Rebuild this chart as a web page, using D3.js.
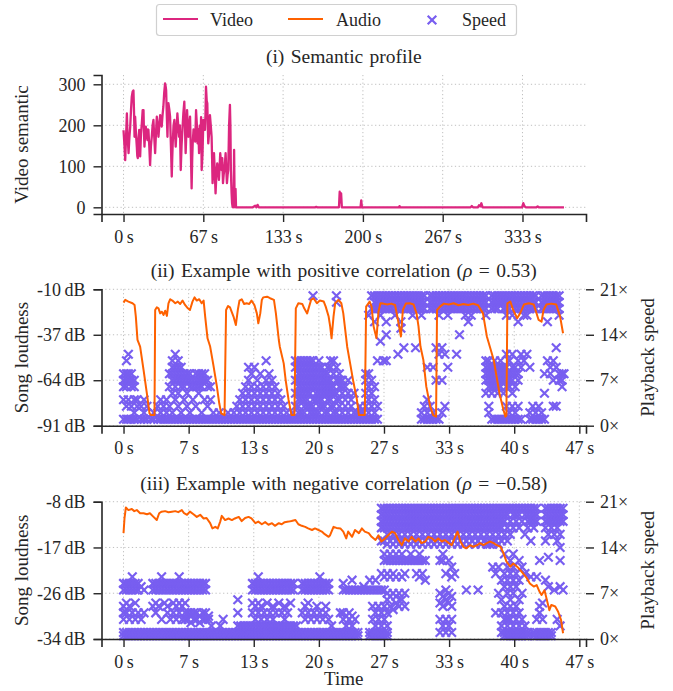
<!DOCTYPE html>
<html><head><meta charset="utf-8">
<script src="https://cdn.jsdelivr.net/npm/d3@7"></script>
<style>body{margin:0;background:#fff}</style>
</head><body><svg id="c" width="673" height="691" xmlns="http://www.w3.org/2000/svg"></svg>
<script>
// ---------------- DATA ----------------
const legendLabels = ["Video", "Audio", "Speed"];
const titles = ["(i) Semantic profile", "(ii) Example with positive correlation (", "(iii) Example with negative correlation ("];
const rhoValues = ["0.53", "\u22120.58"];

// Panel (i): video semantic profile
const videoTime = [0,0.8,1.4,2.1,2.8,3.3,4.2,4.9,5.6,6.3,6.9,7.6,8.3,8.8,9.2,9.7,10.4,11.1,11.5,11.9,12.5,13.1,13.5,13.9,14.6,15.3,16.0,16.7,17.1,17.5,18.0,18.6,19.3,20.0,20.4,20.8,21.5,22.2,22.9,23.6,24.3,25.0,25.7,26.4,27.1,27.8,28.5,29.2,29.9,30.6,31.2,31.9,32.6,33.3,34.0,34.7,35.2,35.6,36.1,36.7,37.1,37.5,38.2,38.9,39.6,40.3,40.7,41.1,41.8,42.5,43.0,43.6,44.3,45.0,45.7,46.4,47.1,47.8,48.5,49.2,50.0,50.8,51.3,51.9,52.5,53.1,53.6,54.2,54.9,55.6,56.3,56.9,57.4,57.8,58.5,59.2,59.9,60.6,61.3,61.9,62.5,63.1,63.7,64.2,64.8,65.3,66.0,66.7,67.4,68.1,68.5,68.9,69.5,70.0,70.4,70.8,71.5,72.2,72.9,73.6,74.0,74.4,75.0,75.6,76.2,76.9,77.6,78.3,79.0,79.7,80.3,80.8,81.4,81.9,82.5,83.1,83.7,84.2,84.8,85.3,85.9,86.4,87.0,87.5,88.2,88.9,89.3,89.7,90.0,90.3,90.7,91.1,91.6,92.0,92.4,92.8,93.2,93.6,94.0,95,108,110,111,112,113,160,161,162,180,180.6,181.2,181.8,182.4,198,198.6,199.2,230,230.6,231.2,290,291,292,296,297,298,299,300,333,334,335,336,345,346,347,368];
const videoValue = [188,150,115,170,229,180,132,170,197,240,270,282,285,230,172,221,180,148,125,120,165,189,150,124,180,205,237,237,180,148,175,197,175,164,190,189,150,103,150,172,200,213,170,132,180,221,200,172,200,225,210,197,225,246,280,302,295,286,230,172,220,254,240,221,150,75,120,156,200,213,180,148,190,229,200,172,200,91,150,189,230,258,200,132,180,237,200,172,200,221,130,46,120,156,190,189,160,237,200,156,190,132,200,156,220,91,130,213,200,189,230,294,260,254,200,156,180,225,200,172,120,59,100,132,90,34,80,107,90,67,100,132,110,91,120,59,80,91,110,132,90,59,80,91,200,250,200,91,60,34,10,2,0,30,140,20,0,45,0,0,0,4,0,6,0,0,1,0,0,38,12,34,0,0,17,0,0,3,0,0,3,0,0,5,2,10,0,0,10,3,0,0,2,0,0];
const p1Ticks = [0, 66.667, 133.333, 200, 266.667, 333.333];
const p1TickLabels = ["0\u2009s", "67\u2009s", "133\u2009s", "200\u2009s", "267\u2009s", "333\u2009s"];
const p1YTicks = [0, 100, 200, 300];

// Panels (ii)/(iii): shared time ticks
const tTicks = [0, 6.667, 13.333, 20, 26.667, 33.333, 40, 46.667];
const tTickLabels = ["0\u2009s", "7\u2009s", "13\u2009s", "20\u2009s", "27\u2009s", "33\u2009s", "40\u2009s", "47\u2009s"];
const speedTicks = [0, 7, 14, 21];
const speedTickLabels = ["0\u00d7", "7\u00d7", "14\u00d7", "21\u00d7"];

// Panel (ii): audio loudness
const audio2Time = [0,0.17,0.5,0.92,1.13,1.26,1.43,1.7,2.05,2.39,2.66,2.8,3.17,3.24,3.41,3.58,3.75,3.92,4.1,4.27,4.44,4.6,4.78,5.0,5.3,5.56,5.8,6.04,6.3,6.59,6.8,7.06,7.27,7.5,7.75,8.0,8.2,8.36,8.6,8.87,9.2,9.56,9.8,10.0,10.34,10.5,10.7,10.9,11.26,11.5,11.7,11.87,12.1,12.35,12.6,12.87,13.1,13.4,13.65,13.8,14.0,14.16,14.3,14.7,15.0,15.4,15.6,15.9,16.0,16.4,16.6,16.9,17.2,17.5,17.64,17.9,18.3,18.5,18.8,19.0,19.2,19.45,19.8,20.1,20.5,20.7,21.0,21.16,21.3,21.5,21.67,22.0,22.3,22.5,22.9,23.2,23.5,23.9,24.1,24.7,24.84,25.2,25.4,25.6,25.9,26.1,26.3,26.6,27.0,27.4,27.8,28.1,28.4,28.6,28.9,29.3,29.7,30.0,30.2,30.4,30.7,31.0,31.4,31.7,32.0,32.1,32.4,32.8,33.3,33.8,34.3,34.8,35.3,35.8,36.3,36.8,37.2,37.5,37.9,38.2,38.5,38.9,39.1,39.2,39.3,39.6,39.9,40.3,40.6,41.0,41.5,42.0,42.5,42.8,43.0,43.3,43.8,44.3,44.7,45.0];
const audio2Db = [-17.9,-16.3,-17.3,-18.3,-19.3,-26.2,-40,-44,-57.9,-71.8,-83.7,-84.7,-84.7,-22.3,-20.7,-21.3,-24.3,-23.3,-25.2,-22.7,-25.8,-18.3,-15.9,-16.7,-18.3,-17.3,-18.7,-16.7,-19.3,-21.3,-22.3,-17.3,-14.8,-16.7,-15.9,-18.3,-16.7,-26.2,-39.1,-44,-55,-67.8,-77.7,-83.7,-84.7,-22.3,-19.9,-20.7,-26.2,-31.2,-22.3,-16.7,-15.9,-18.7,-18.3,-18.7,-16.7,-19.3,-24.3,-30.2,-24.3,-16.3,-14.8,-14.4,-15.3,-16.3,-24.3,-40.1,-44.1,-54,-63.9,-75.7,-84.7,-84.7,-21.3,-18.3,-18.7,-21.3,-24.3,-20.3,-16.3,-15.3,-18.3,-16.7,-17.3,-20.3,-26.2,-32.2,-39.1,-26.2,-18.3,-16.3,-18.3,-24.3,-44.1,-54,-63.9,-75.7,-84.7,-84.7,-20.3,-17.3,-20.3,-32,-39,-23.3,-18.3,-18.5,-19,-18.5,-19.3,-28.2,-38,-22.3,-18.5,-18.3,-19,-24.3,-32,-44,-52,-67.8,-79.7,-84.7,-85.6,-22.3,-20.3,-18.5,-19,-18.3,-19.5,-18.7,-19.3,-18.5,-19.5,-24.3,-38,-44,-52,-62,-72,-81.7,-85.6,-85,-18.3,-17.3,-22.3,-27.2,-24.3,-19,-18.3,-19,-28.2,-29.2,-22.3,-19,-18.5,-19,-26.2,-36.1];
const p2DbTicks = [-91, -64, -37, -10];
const p2DbTickLabels = ["-91\u2009dB", "-64\u2009dB", "-37\u2009dB", "-10\u2009dB"];

// Panel (ii): playback speed samples, [time, [speeds at that time]]
const speed2 = [
[0.0,[1,4,6,7,8]],[0.3,[1,3,6,7,8,10]],[0.5,[1,4,7,8,11]],[0.8,[1,3,6,7,8]],[1.1,[1,2,4,6,7]],[1.4,[1,3,4]],[1.8,[1,3]],[2.1,[1,2,4]],[2.4,[1,3]],[2.8,[1]],[3.1,[1,2]],[3.5,[1,3]],[3.8,[1,2,4]],[4.1,[1,3]],[4.4,[1,2,4]],[4.7,[1,3,6,8]],
[5.0,[1,2,5,7,8,9,10]],[5.3,[1,4,6,7,8,9,11]],[5.6,[1,3,5,7,8,9,10]],[5.9,[1,2,6,7,8,9]],[6.2,[1,4,6,7,8]],[6.5,[1,3,5,7,8]],[6.8,[1,2,6,7,8]],[7.1,[1,4,6,7]],[7.4,[1,3,6,7,8]],[7.7,[1,5,6,7,8]],[8.0,[1,2,6,7,8]],[8.3,[1,4,7,8]],[8.6,[1,3,6,7]],[8.9,[1,4,6]],[9.2,[1,2]],[9.5,[1]],[9.8,[1,2]],
[10.1,[1]],[10.4,[1]],[10.7,[1,2]],[11.0,[1]],[11.3,[1,2]],[11.6,[1,3]],[11.9,[1,2,4]],[12.2,[1,3,5]],[12.5,[1,2,4,6]],[12.8,[1,3,5,7,9]],[13.1,[1,2,4,6,8]],[13.4,[1,3,5,9]],[13.7,[1,2,4,6,7]],[14.0,[1,3,5,8]],[14.3,[1,2,4,6]],[14.6,[1,3,5,7,10]],[14.9,[1,2,4,6,8]],
[15.2,[1,3,5,7]],[15.5,[1,2,4,6]],[15.8,[1,3,5]],[16.1,[1,2,4]],[16.4,[1,3]],[16.7,[1,2]],[17.0,[1]],[17.3,[1,2]],[17.6,[1,3,5,7,9,10]],[17.9,[1,2,3,4,5,6,7,8,9,10]],[18.2,[1,2,4,5,6,7,8,9,10]],[18.5,[1,2,3,4,5,6,7,8,9,10]],[18.8,[1,3,4,5,6,7,8,9,10]],
[19.1,[1,2,3,5,6,7,8,9,10]],[19.4,[1,2,3,4,6,7,8,9,10,20]],[19.7,[1,2,4,5,6,7,8,9]],[20.0,[1,2,3,4,5,6,7,8,9,10]],[20.3,[1,3,4,5,6,7,8,9]],[20.6,[1,2,3,5,6,7,8]],[20.9,[1,2,4,5,6,7,8,9]],[21.2,[1,3,4,5,6,7,9,10]],[21.5,[1,2,3,5,6,8,10]],[21.8,[1,2,4,5,7,9,19,20]],
[22.1,[1,3,4,6,7,8]],[22.4,[1,2,5,6,7]],[22.7,[1,3,4,6]],[23.0,[1,2,5,7]],[23.3,[1,3,4]],[23.6,[1,2,5]],[23.9,[1,2]],[24.2,[1,2,3]],[24.5,[1,2]],[24.8,[1,3,5,7,8]],[25.1,[1,2,4,6,8,17]],[25.4,[1,3,5,7,18,20]],[25.7,[1,2,4,6,16,18,19,20]],[26.0,[1,3,10,18,19,20]],
[26.3,[13,17,18,19,20]],[26.6,[10,18,19,20]],[26.9,[10,14,16,18,19,20]],[27.2,[18,19,20]],[27.5,[18,19,20]],[27.8,[17,18,19,20]],[28.1,[11,18,19,20]],[28.4,[15,16,18,19,20]],[28.7,[12,18,19,20]],[29.0,[18,19,20]],[29.3,[18,19,20]],[29.6,[17,18,19,20]],[29.9,[12,18,19,20]],[30.2,[18,19,20]],
[30.5,[1,2,17,18,19,20]],[30.8,[1,3,18,19,20]],[31.1,[1,2,4,9]],[31.4,[1,3,18,19,20]],[31.7,[1,2,9,18,19,20]],[32.0,[1,7,12,18,19,20]],[32.3,[1,11,17,18,19,20]],[32.6,[2,7,12,18,19,20]],[32.9,[3,11,18,19,20]],[33.2,[9,17,18,19,20]],[33.5,[18,19,20]],[33.8,[18,19,20]],
[34.1,[11,18,19,20]],[34.4,[14,18,19,20]],[34.7,[18,19,20]],[35.0,[17,18,19,20]],[35.3,[16,18,19,20]],[35.6,[17,18,19,20]],[35.9,[18,19,20]],[36.2,[18,19,20]],[36.5,[18,19,20]],[36.8,[18,19,20]],[37.1,[5,7,8,9,10,17,18,19,20]],[37.4,[2,3,6,7,8,9,10]],
[37.7,[1,5,6,7,8,9,18,19,20]],[38.0,[1,6,7,8,9,10,18,19,20]],[38.3,[1,5,6,7,8,9,18,19,20]],[38.6,[1,6,7,8,9,10,19,20]],[38.9,[1,5,7,8,9,18,19,20]],[39.2,[1,3,6,7,8,9,11,17,18,19,20]],[39.5,[1,2,6,7,8,10,18,19,20]],[39.8,[1,3,5,7,8,9,11,17,19,20]],
[40.1,[1,2,6,8,9,18,19,20]],[40.4,[1,3,7,8,10,16,18,19,20]],[40.7,[1,9,11,18,19,20]],[41.0,[10,17,18,19,20]],[41.3,[11,17,18,19,20]],[41.6,[1,2,9,18,19,20]],[41.9,[1,3,18,19,20]],[42.2,[1,2,18,19,20]],[42.5,[1,3]],[42.8,[1,2,18,19,20]],
[43.1,[1,5,8,18,19,20]],[43.4,[10,16,18,19,20]],[43.7,[8,9,18,19,20]],[44.0,[3,7,10,18,19,20]],[44.3,[3,9,12,18,19,20]],[44.6,[7,8,17,18,19,20]],[44.9,[6,7,8]],[45.1,[8]]
];

// Panel (iii): audio loudness
const audio3Time = [0,0.1,0.24,0.5,0.85,1.1,1.36,1.7,2.05,2.4,2.7,3.07,3.4,3.65,3.9,4.26,4.6,4.95,5.3,5.6,5.97,6.2,6.5,6.8,7.16,7.5,7.85,8.2,8.5,8.87,9.1,9.4,9.65,9.9,10.06,10.4,10.75,11.1,11.4,11.8,12.1,12.45,12.8,13.1,13.5,13.8,14.16,14.5,14.84,15.2,15.5,15.9,16.2,16.5,16.9,17.2,17.6,17.9,18.25,18.6,18.9,19.3,19.6,19.96,20.3,20.6,21.0,21.15,21.5,21.8,22.2,22.5,22.8,23.0,23.4,23.7,24.1,24.4,24.7,25.1,25.4,25.8,26.1,26.4,26.8,27.1,27.5,27.8,28.15,28.5,28.8,29.2,29.5,29.9,30.2,30.5,30.9,31.2,31.6,31.9,32.2,32.6,32.9,33.3,33.6,33.95,34.2,34.5,34.8,35.1,35.5,35.8,36.2,36.5,36.85,37.2,37.5,37.9,38.2,38.6,38.9,39.2,39.6,39.9,40.3,40.6,40.9,41.3,41.6,42.0,42.3,42.6,42.8,43.1,43.3,43.6,43.8,44.2,44.5,44.8,45.0];
const audio3Db = [-14.1,-11.3,-9.2,-9.7,-9.5,-9.9,-9.7,-10.3,-10.3,-10.5,-10.3,-11,-11.6,-10.3,-10,-9.9,-10.1,-10,-9.9,-10.1,-9.7,-10.3,-10.6,-10,-10.5,-11,-10.6,-11.3,-11.2,-12.2,-13.2,-12.9,-13.2,-11.9,-10.8,-11.6,-11.3,-11.6,-11.3,-11,-11.8,-11.2,-11,-11.3,-12.2,-11.9,-12.4,-12,-12.5,-12.2,-12.7,-12.2,-12.4,-12,-11.9,-11.8,-11.6,-12.4,-12.7,-12.9,-13.2,-13.5,-13.2,-13.5,-13.8,-14.3,-14.8,-14.5,-12.9,-13.1,-13.2,-13.8,-15.1,-13.8,-14.8,-13.5,-14.1,-13.2,-13.8,-14.1,-14.8,-15.4,-14.5,-15.7,-15.1,-14.5,-13.8,-14.1,-15.4,-16.4,-15.1,-15.7,-14.8,-15.7,-15.1,-16.0,-15.7,-14.8,-15.1,-15.7,-15.1,-15.7,-15.4,-16.0,-16.4,-14.8,-13.8,-15.7,-16.7,-17,-16.4,-16.7,-16.4,-16,-16.4,-16,-15.7,-16,-16.4,-16.7,-17.9,-19.5,-20.5,-19.9,-20.5,-21.1,-21.8,-22.7,-23.7,-24.3,-24,-25.3,-25.9,-25,-26.5,-28.8,-27.8,-28.1,-29.1,-30.7,-33.2];
const p3DbTicks = [-34.3, -25.567, -16.833, -8.1];
const p3DbTickLabels = ["-34\u2009dB", "-26\u2009dB", "-17\u2009dB", "-8\u2009dB"];

// Panel (iii): playback speed samples, [time, [speeds at that time]]
const speed3 = [
[0.0,[0.5,1,3,4,5,7.5,8.5]],[0.3,[0.5,1,4,5.5,7.5,8.5]],[0.6,[0.5,1,3,5,7.5,8.5]],[0.9,[0.5,1,4,7.5,8.5,9.5]],[1.2,[0.5,1,3,5.5,7.5,8.5]],[1.5,[0.5,1,4,7.5,8.5]],[1.8,[0.5,1,3,8]],[2.1,[0.5,1,4,7.5]],[2.4,[0.5,1]],[2.7,[0.5,1]],
[3.0,[0.5,1,5,7.5,8.5]],[3.3,[0.5,1,4,5.5,7.5,8.5]],[3.6,[0.5,1,5,7.5,8.5]],[3.9,[0.5,1,3,7.5,8.5,9.5]],[4.2,[0.5,1,5.5,7.5,8.5]],[4.5,[0.5,1,4,5,7.5,8.5]],[4.8,[0.5,1,3,7.5,8.5]],[5.1,[0.5,1,4,5.5,7.5,8.5]],[5.4,[0.5,1,3,5,7.5,8.5]],[5.7,[0.5,1,4,5.5,7.5,8.5,9.5]],
[6.0,[0.5,1,3,5,7.5,8.5]],[6.3,[0.5,1,3,4,5.5,7.5,8.5]],[6.6,[0.5,1,3,4,7.5,8.5]],[6.9,[0.5,1,2.5,3.5,4,7.5,8.5]],[7.2,[0.5,1,3,4,7.5,8.5]],[7.5,[0.5,1,3,4,7.5,8.5]],[7.8,[0.5,1,2.5,3.5,7.5,8.5]],[8.1,[0.5,1,3,4,7.5,8.5]],[8.4,[0.5,1,3,4,7.5,8.5]],[8.7,[0.5,1,3,3.5]],
[9.0,[0.5,1,2]],[9.3,[0.5,1]],[9.6,[0.5,1]],[9.9,[0.5,1,2]],[10.2,[0.5,1,3]],[10.5,[0.5,1]],[10.8,[0.5,1]],[11.1,[0.5,1]],[11.4,[0.5,1]],[11.7,[0.5,1,2,4,6]],[12.0,[0.5,1,2]],[12.3,[0.5,1,2]],[12.6,[0.5,1,2]],[12.9,[0.5,1,2]],
[13.2,[0.5,1,2,4,5.5,7.5,8.5]],[13.5,[0.5,1,2,3,5,7.5,8.5]],[13.8,[0.5,1,2,4,5.5,7.5,8.5,9.5]],[14.1,[0.5,1,2,3,5,7.5,8.5]],[14.4,[0.5,1,2,4,7.5,8.5]],[14.7,[0.5,1,2,3,5.5,7.5,8.5]],[15.0,[0.5,1,2,4,7.5,8.5]],[15.3,[0.5,1,2,3,5,7.5,8.5]],[15.6,[0.5,1,2,4,7.5,8.5]],
[15.9,[0.5,1,2,5.5,7.5,8.5]],[16.2,[0.5,1,2,4,7.5,8.5]],[16.5,[0.5,1,2,3,5,7.5,8.5]],[16.8,[0.5,1,2,4,7.5,8.5]],[17.1,[0.5,1,2,5.5,7.5,8.5]],[17.4,[0.5,1,2,7.5,8.5]],[17.7,[0.5,1,2]],[18.0,[0.5,1]],
[18.3,[0.5,1,4,7.5,8.5]],[18.6,[0.5,1,3,5,7.5,8.5]],[18.9,[0.5,1,4,5.5,7.5,8.5]],[19.2,[0.5,1,3,7.5,8.5]],[19.5,[0.5,1,4,7.5,8.5]],[19.8,[0.5,1,3,5,7.5,8.5]],[20.1,[0.5,1,4,7.5,8.5,9.5]],[20.4,[0.5,1,3,7.5,8.5]],[20.7,[0.5,1,4,5,7.5,8.5]],[21.0,[0.5,1,3,7.5,8.5]],
[21.3,[0.5,1,2]],[21.6,[0.5,1]],[21.9,[0.5,1]],[22.2,[0.5,1,4]],[22.5,[0.5,1,3,4,7.5,8.5]],[22.8,[0.5,1,2,3.5,7.5]],[23.1,[0.5,1,3,4,7.5]],[23.4,[0.5,1,2,3.5,7.5,9]],[23.7,[0.5,1,3,7.5]],[24.0,[0.5,1,7.5]],[24.3,[7.5]],[24.6,[7.5,8]],[24.9,[7.5]],
[25.2,[0.5,1,7.5,9]],[25.5,[0.5,1,3,5,7.5]],[25.8,[0.5,1,2,4,7.5,9]],[26.1,[0.5,1,3,5,7.5]],[26.4,[0.5,1,2,4,7.5,10,15,17,18,19,20]],[26.7,[0.5,1,3,5,7.5,9.5,12,13,15,17,18,19,20]],[27.0,[0.5,1,2,4,6,7,10,12,14.5,16,17,18,19,20]],
[27.3,[5,6.5,9.5,12,13,15,17,18,19,20]],[27.6,[4.5,7,10,12,14.5,16,17,18,19,20]],[27.9,[5.5,6.5,9.5,12,13,15,17,18,19,20]],[28.2,[5,7,12,14.5,16,17,18,19,20]],[28.5,[6,9.5,12,13,15,17,18,19,20]],[28.8,[5,7,10,12,14.5,16,17,18,19,20]],
[29.1,[12,15,17,18,19,20]],[29.4,[12,13,14.5,16,17,18,19,20]],[29.7,[12,15,17,18,19,20]],[30.0,[10,12,14.5,16,17,18,19,20]],[30.3,[9.5,12,13,15,17,18,19,20]],[30.6,[10,12,14.5,16,17,18,19,20]],[30.9,[9,12,15,17,18,19,20]],
[31.2,[14.5,16,17,18,19,20]],[31.5,[15,17,18,19,20]],[31.8,[14.5,16,17,18,19,20]],[32.1,[15,17,18,19,20]],[32.4,[1,3,5.5,7,12,14.5,16,17,18,19,20]],[32.7,[2,5,6.5,12,13,15,17,18,19,20]],[33.0,[1,3,6,7.5,10,14.5,16,17,18,19,20]],
[33.3,[2,5.5,7,12,15,17,18,19,20]],[33.6,[1,3,5,6.5,9.5,11,14.5,16,17,18,19,20]],[33.9,[10,15,17,18,19,20]],[34.2,[14.5,16,17,18,19,20]],[34.5,[15,17,18,19,20]],[34.8,[14.5,16,17,18,19,20]],[35.1,[7.5,15,17,18,19,20]],
[35.4,[14.5,16,17,18,19,20]],[35.7,[15,17,18,19,20]],[36.0,[14.5,16,17,18,19,20]],[36.3,[7.5,15,17,18,19,20]],[36.6,[14.5,16,17,18,19,20]],[36.9,[15,17,18,19,20]],[37.2,[14.5,16,17,18,19,20]],[37.5,[14.5,15,17,18,19,20]],
[37.8,[11,14.5,16,17,18,19,20]],[38.1,[4,10,15,17,18,19,20]],[38.4,[7,11,14.5,16,17,18,19,20]],[38.7,[1,2,4,6,9,15,17,18,19,20]],[39.0,[0.5,1,3,5,8,10,13,16,18,19,20]],[39.3,[0.5,1,2,3,4,7,9,11,15,17,19,20]],
[39.6,[0.5,1,3,5,6,8,10,12,16,18,20]],[39.9,[0.5,1,2,4,7,9,11,13,17,19,20]],[40.2,[0.5,1,3,5,8,10,18,19,20]],[40.5,[0.5,1,2,4,6,9,12,17,19,20]],[40.8,[0.5,1,3,7,11,18,20]],[41.1,[0.5,1,2,10,16,19,20]],
[41.4,[0.5,1,17,18,19,20]],[41.7,[9.5,15,18,19,20]],[42.0,[0.5,1,17,18,19,20]],[42.3,[0.5,1,3,9.5,18,19,20]],[42.6,[0.5,1,4,5,12]],[42.9,[0.5,1,3,5.5]],[43.2,[0.5,1,9,15,17,18,19,20]],[43.5,[0.5,1,8,12.5,16,18,19,20]],
[43.8,[0.5,1,17,18,19,20]],[44.1,[7.5,16,18,19,20]],[44.4,[3,15,17,18,19,20]],[44.7,[2,8,12,14,16,18,19,20]],[45.0,[7.5,18,19,20]]
];

// ---------------- DRAWING ----------------
const FONT = "'Liberation Serif','Times New Roman',serif";
const INK = "#262626";
const C_VIDEO = "#dc267f", C_AUDIO = "#fe6100", C_SPEED = "#785ef0";
const X0 = 101.5, X1 = 586;
const svg = d3.select("#c").style("font-family", FONT);
svg.append("rect").attr("width", 673).attr("height", 691).attr("fill", "#fff");

const xMark = "M-4.3,-4.3L4.3,4.3M-4.3,4.3L4.3,-4.3";

function styleAxis(g, removeDomain) {
  g.selectAll("text").attr("fill", INK).style("font-family", FONT).style("font-size", "18px");
  g.selectAll(".tick line").attr("stroke", INK).attr("stroke-width", 1.4);
  if (removeDomain) g.select(".domain").remove();
  else g.select(".domain").attr("stroke", INK).attr("stroke-width", 1.6);
}

function grid(x, y, xt, yt, top, bottom) {
  const gg = svg.append("g").attr("stroke", "#b8b8b8").attr("stroke-width", 0.9).attr("stroke-dasharray", "1.2,2.6");
  xt.forEach(v => gg.append("line").attr("x1", x(v)).attr("x2", x(v)).attr("y1", top).attr("y2", bottom));
  yt.forEach(v => gg.append("line").attr("x1", X0).attr("x2", X1).attr("y1", y(v)).attr("y2", y(v)));
}

function title(txt, rho, yb) {
  const t = svg.append("text").attr("x", (X0 + X1) / 2).attr("y", yb).attr("text-anchor", "middle")
    .attr("fill", INK).style("font-size", "19.5px").style("word-spacing", "1.5px");
  t.append("tspan").text(txt);
  if (rho !== undefined) {
    t.append("tspan").style("font-style", "italic").text("\u03c1");
    t.append("tspan").text(" = " + rho + ")");
  }
}

function ylabel(txt, cx, cy) {
  svg.append("text").attr("transform", `translate(${cx},${cy}) rotate(-90)`).attr("text-anchor", "middle")
    .attr("dominant-baseline", "central").attr("fill", INK).style("font-size", "19px").style("word-spacing", "1px").text(txt);
}

// ---- Legend ----
const lg = svg.append("g");
lg.append("rect").attr("x", 156.5).attr("y", 4.5).attr("width", 360).attr("height", 31).attr("rx", 3)
  .attr("fill", "#fff").attr("stroke", "#d0d0d0").attr("stroke-width", 1.2);
const legendColors = [C_VIDEO, C_AUDIO, C_SPEED];
const legendX = [163, 288, 414];
const legendTextX = [210, 336, 462];
legendLabels.forEach((lab, i) => {
  if (i < 2) lg.append("line").attr("x1", legendX[i]).attr("x2", legendX[i] + 35).attr("y1", 19).attr("y2", 19)
    .attr("stroke", legendColors[i]).attr("stroke-width", 2.2);
  else lg.append("path").attr("d", xMark).attr("transform", "translate(432,20)").attr("stroke", C_SPEED).attr("stroke-width", 2.2).attr("fill", "none");
  lg.append("text").attr("x", legendTextX[i]).attr("y", 25.5).attr("fill", INK).style("font-size", "18px").text(lab);
});

// ---- Panel (i) ----
{
  const top = 75, bottom = 214;
  const x = d3.scaleLinear().domain([-18.4, 386.4]).range([X0, X1]);
  const y = d3.scaleLinear().domain([-16.3, 322.7]).range([bottom, top]);
  grid(x, y, p1Ticks, p1YTicks, top, bottom);
  const line = d3.line().x((d, i) => x(videoTime[i])).y(d => y(d));
  svg.append("path").datum(videoValue).attr("d", line).attr("fill", "none").attr("stroke", C_VIDEO)
    .attr("stroke-width", 2.3).attr("stroke-linejoin", "round");
  const ax = svg.append("g").attr("transform", `translate(0,${bottom})`)
    .call(d3.axisBottom(x).tickValues(p1Ticks).tickFormat((d, i) => p1TickLabels[i]).tickSizeOuter(0).tickSize(8).tickPadding(8));
  styleAxis(ax, false);
  const ay = svg.append("g").attr("transform", `translate(${X0},0)`)
    .call(d3.axisLeft(y).tickValues(p1YTicks).tickFormat(d3.format("d")).tickSizeOuter(0).tickSize(8).tickPadding(8));
  styleAxis(ay, false);
  title(titles[0], undefined, 63);
  ylabel("Video semantic", 21, (top + bottom) / 2);
}

function twinPanel(top, bottom, dbDomain, dbTicks, dbLabels, aT, aDb, speed, titleTxt, rho, titleY) {
  const x = d3.scaleLinear().domain([-2.255, 47.35]).range([X0, X1]);
  const y = d3.scaleLinear().domain(dbDomain).range([bottom, top]);
  const ys = d3.scaleLinear().domain([0, 21]).range([bottom, top]);
  grid(x, y, tTicks, dbTicks, top, bottom);
  const pts = [];
  speed.forEach(([t, vs]) => vs.forEach(v => pts.push([t, v])));
  svg.append("g").selectAll("path").data(pts).join("path").attr("d", xMark)
    .attr("transform", d => `translate(${x(d[0])},${ys(d[1])})`)
    .attr("stroke", C_SPEED).attr("stroke-width", 2.2).attr("fill", "none");
  const line = d3.line().x((d, i) => x(aT[i])).y(d => y(d));
  svg.append("path").datum(aDb).attr("d", line).attr("fill", "none").attr("stroke", C_AUDIO)
    .attr("stroke-width", 2).attr("stroke-linejoin", "round");
  const ax = svg.append("g").attr("transform", `translate(0,${bottom})`)
    .call(d3.axisBottom(x).tickValues(tTicks).tickFormat((d, i) => tTickLabels[i]).tickSizeOuter(0).tickSize(8).tickPadding(8));
  styleAxis(ax, false);
  const ay = svg.append("g").attr("transform", `translate(${X0},0)`)
    .call(d3.axisLeft(y).tickValues(dbTicks).tickFormat((d, i) => dbLabels[i]).tickSizeOuter(0).tickSize(8).tickPadding(8));
  styleAxis(ay, false);
  const ar = svg.append("g").attr("transform", `translate(${X1},0)`)
    .call(d3.axisRight(ys).tickValues(speedTicks).tickFormat((d, i) => speedTickLabels[i]).tickSizeOuter(0).tickSize(8).tickPadding(6));
  styleAxis(ar, true);
  title(titleTxt, rho, titleY);
  ylabel("Song loudness", 21, (top + bottom) / 2);
  ylabel("Playback speed", 647, (top + bottom) / 2);
}

twinPanel(289.3, 425.7, [-91, -10], p2DbTicks, p2DbTickLabels, audio2Time, audio2Db, speed2, titles[1], rhoValues[0], 277);
twinPanel(501.7, 639, [-34.3, -8.1], p3DbTicks, p3DbTickLabels, audio3Time, audio3Db, speed3, titles[2], rhoValues[1], 489.5);

svg.append("text").attr("x", (X0 + X1) / 2).attr("y", 685).attr("text-anchor", "middle").attr("fill", INK)
  .style("font-size", "19px").text("Time");
</script></body></html>
